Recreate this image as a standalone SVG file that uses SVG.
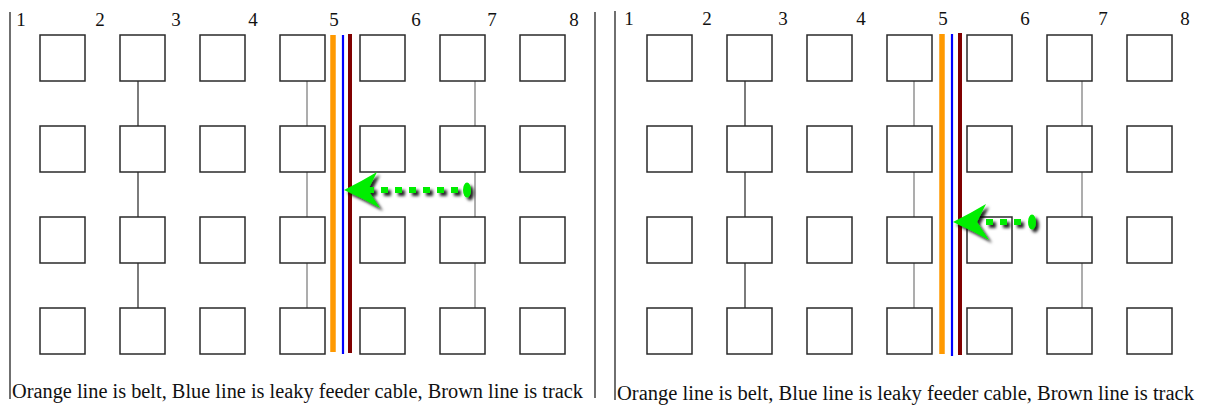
<svg xmlns="http://www.w3.org/2000/svg" width="1205" height="409" viewBox="0 0 1205 409">
  <style>
    .box { fill: #fff; stroke: #2a2a2a; stroke-width: 1.5; }
    .link-dark { stroke: #444; stroke-width: 1.4; }
    .link-grey { stroke: #8a8a8a; stroke-width: 1.4; }
    .frame { stroke: #222; stroke-width: 1.3; }
    .num { font-family: "Liberation Serif", "Times New Roman", serif; font-size: 19px; fill: #111; text-anchor: middle; }
    .caption { font-family: "Liberation Serif", "Times New Roman", serif; font-size: 20px; fill: #111; }
    .belt { stroke: #ff9900; stroke-width: 5.5; }
    .feeder { stroke: #0000ff; stroke-width: 2.2; }
    .track { stroke: #800000; stroke-width: 4; }
    .arrow-head { fill: #00ee00; }
    .arrow-dots { stroke: #00ee00; stroke-width: 6; stroke-dasharray: 7 7; fill: none; }
    .arrow-tail { fill: #00ee00; }
  </style>
  <defs>
    <filter id="shadow" x="-20%" y="-40%" width="140%" height="180%">
      <feDropShadow dx="3" dy="3" stdDeviation="1.5" flood-color="#000" flood-opacity="0.85"/>
    </filter>
    <!-- one panel's grid of boxes; reused for both panels -->
    <g id="grid-boxes">
      <rect class="box" x="40" y="35" width="45" height="46"/>
      <rect class="box" x="120" y="35" width="45" height="46"/>
      <rect class="box" x="200" y="35" width="45" height="46"/>
      <rect class="box" x="280" y="35" width="45" height="46"/>
      <rect class="box" x="360" y="35" width="45" height="46"/>
      <rect class="box" x="440" y="35" width="45" height="46"/>
      <rect class="box" x="520" y="35" width="45" height="46"/>
      <rect class="box" x="40" y="126" width="45" height="46"/>
      <rect class="box" x="120" y="126" width="45" height="46"/>
      <rect class="box" x="200" y="126" width="45" height="46"/>
      <rect class="box" x="280" y="126" width="45" height="46"/>
      <rect class="box" x="360" y="126" width="45" height="46"/>
      <rect class="box" x="440" y="126" width="45" height="46"/>
      <rect class="box" x="520" y="126" width="45" height="46"/>
      <rect class="box" x="40" y="217" width="45" height="46"/>
      <rect class="box" x="120" y="217" width="45" height="46"/>
      <rect class="box" x="200" y="217" width="45" height="46"/>
      <rect class="box" x="280" y="217" width="45" height="46"/>
      <rect class="box" x="360" y="217" width="45" height="46"/>
      <rect class="box" x="440" y="217" width="45" height="46"/>
      <rect class="box" x="520" y="217" width="45" height="46"/>
      <rect class="box" x="40" y="308" width="45" height="46"/>
      <rect class="box" x="120" y="308" width="45" height="46"/>
      <rect class="box" x="200" y="308" width="45" height="46"/>
      <rect class="box" x="280" y="308" width="45" height="46"/>
      <rect class="box" x="360" y="308" width="45" height="46"/>
      <rect class="box" x="440" y="308" width="45" height="46"/>
      <rect class="box" x="520" y="308" width="45" height="46"/>
    </g>
    <g id="grid-links">
      <line class="link-dark" x1="138" y1="81" x2="138" y2="126"/>
      <line class="link-dark" x1="138" y1="172" x2="138" y2="217"/>
      <line class="link-dark" x1="138" y1="263" x2="138" y2="308"/>
      <line class="link-grey" x1="307" y1="81" x2="307" y2="126"/>
      <line class="link-grey" x1="307" y1="172" x2="307" y2="217"/>
      <line class="link-grey" x1="307" y1="263" x2="307" y2="308"/>
      <line class="link-grey" x1="475" y1="81" x2="475" y2="126"/>
      <line class="link-grey" x1="475" y1="172" x2="475" y2="217"/>
      <line class="link-grey" x1="475" y1="263" x2="475" y2="308"/>
    </g>
  </defs>

  <!-- left panel -->
  <g id="panel-left">
    <line class="frame" x1="10" y1="12" x2="10" y2="399"/>
    <line class="frame" x1="595" y1="12" x2="595" y2="398"/>
    <g id="left-numbers">
      <text class="num" x="21" y="26">1</text>
      <text class="num" x="100" y="26">2</text>
      <text class="num" x="176" y="26">3</text>
      <text class="num" x="253" y="26">4</text>
      <text class="num" x="334" y="26">5</text>
      <text class="num" x="416" y="26">6</text>
      <text class="num" x="492" y="26">7</text>
      <text class="num" x="574" y="26">8</text>
    </g>
    <g id="left-connectors">
      <use href="#grid-links"/>
    </g>
    <g id="left-nodes">
      <use href="#grid-boxes"/>
    </g>
    <g id="left-cables">
      <line class="belt" x1="333" y1="35" x2="333" y2="352"/>
      <line class="feeder" x1="343" y1="35" x2="343" y2="354"/>
      <line class="track" x1="350" y1="34" x2="350" y2="353"/>
    </g>
    <g id="left-arrow" filter="url(#shadow)">
      <path class="arrow-dots" d="M367,190 H460"/>
      <ellipse class="arrow-tail" cx="467" cy="190" rx="4" ry="7.5"/>
      <path class="arrow-head" d="M344,190 Q362,181 377,172 L368,190 L380,208 Q362,198 344,190 Z"/>
    </g>
    <text class="caption" x="12" y="398" textLength="571" lengthAdjust="spacingAndGlyphs">Orange line is belt, Blue line is leaky feeder cable, Brown line is track</text>
  </g>

  <!-- right panel -->
  <g id="panel-right">
    <line class="frame" x1="615" y1="11" x2="615" y2="400"/>
    <g id="right-numbers">
      <text class="num" x="629" y="25">1</text>
      <text class="num" x="707" y="25">2</text>
      <text class="num" x="783" y="25">3</text>
      <text class="num" x="861" y="25">4</text>
      <text class="num" x="943" y="25">5</text>
      <text class="num" x="1025" y="25">6</text>
      <text class="num" x="1103" y="25">7</text>
      <text class="num" x="1185" y="25">8</text>
    </g>
    <g id="right-connectors" transform="translate(607,0)">
      <use href="#grid-links"/>
    </g>
    <g id="right-nodes" transform="translate(607,0)">
      <use href="#grid-boxes"/>
    </g>
    <g id="right-cables">
      <line class="belt" x1="942" y1="34" x2="942" y2="354"/>
      <line class="feeder" x1="952" y1="34" x2="952" y2="356"/>
      <line class="track" x1="960" y1="33" x2="960" y2="355"/>
    </g>
    <g id="right-arrow" filter="url(#shadow)">
      <path class="arrow-dots" d="M986,222 H1026"/>
      <ellipse class="arrow-tail" cx="1032" cy="222" rx="4" ry="7.5"/>
      <path class="arrow-head" d="M953,222 Q971,213 986,204 L977,222 L989,240 Q971,230 953,222 Z"/>
    </g>
    <text class="caption" x="617" y="400" textLength="577" lengthAdjust="spacingAndGlyphs">Orange line is belt, Blue line is leaky feeder cable, Brown line is track</text>
  </g>
</svg>
